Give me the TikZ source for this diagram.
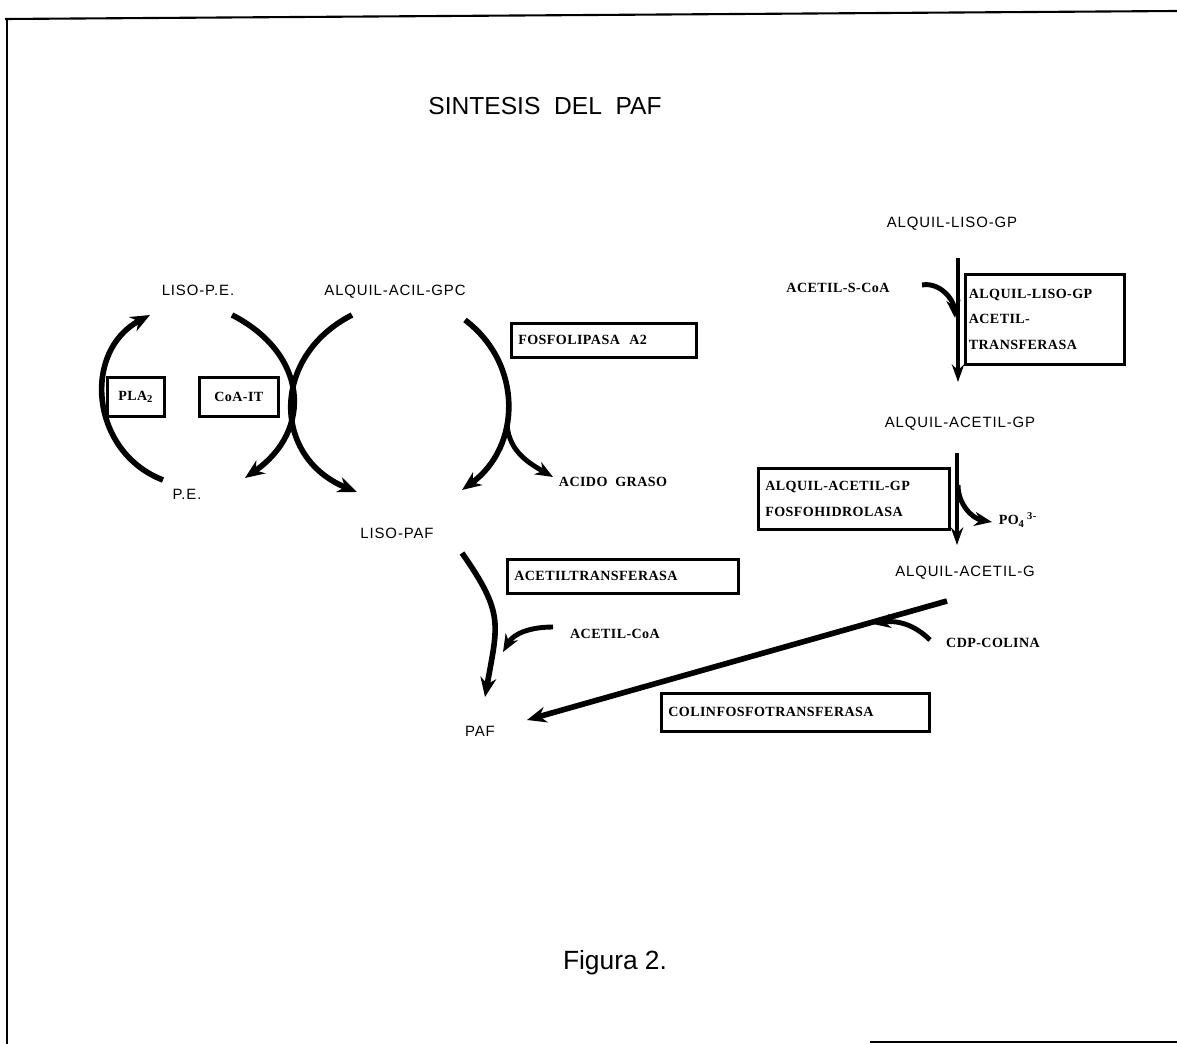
\documentclass[tikz,border=0pt]{standalone}
\usepackage{fontspec}
\setmainfont{Liberation Serif}
\setsansfont{Liberation Sans}
\newfontfamily\metabfont[LetterSpace=6]{Liberation Sans}
\newfontfamily\enzfont[LetterSpace=3]{Liberation Serif}
\usetikzlibrary{arrows.meta}

\begin{document}
\begin{tikzpicture}[
  x=0.02cm, y=0.02cm,
  metab/.style={font=\metabfont\fontsize{8.5pt}{10pt}\selectfont, inner sep=1pt},
  reag/.style={font=\enzfont\bfseries\fontsize{8pt}{10pt}\selectfont, inner sep=1pt},
  enzyme/.style={draw, line width=1.5pt, anchor=north west, align=left,
                 inner xsep=4pt, inner ysep=0pt,
                 font=\enzfont\bfseries\fontsize{8pt}{14.5pt}\selectfont},
  route/.style={line width=3.2pt, -{Stealth[length=11pt, width=9pt]}},
  vroute/.style={line width=2.2pt, -{Stealth[length=10pt, width=7pt]}},
  branch/.style={line width=2.8pt, -{Stealth[length=10pt, width=8pt]}},
]
  \useasboundingbox (0,0) rectangle (1177,-1044);

  % Frame
  \draw[line width=1.2pt] (5,-19) -- (1177,-11);
  \draw[line width=1.4pt] (7,-18) -- (7,-1044);
  \draw[line width=1pt] (870,-1042) -- (1177,-1042);

  % Titles
  \node[font=\sffamily\fontsize{14pt}{16pt}\selectfont] (title) at (545,-106)
    {SINTESIS\ \ DEL\ \ PAF};
  \node[font=\sffamily\fontsize{15pt}{17pt}\selectfont] (fig) at (615,-963)
    {Figura 2.};

  % Nodes
  \node[metab] (lisope) at (198,-290) {LISO-P.E.};
  \node[metab] (aagpc) at (395,-292) {ALQUIL-ACIL-GPC};
  \node[metab] (pe) at (187,-494) {P.E.};
  \node[metab] (lisopaf) at (397,-533) {LISO-PAF};
  \node[metab] (paf) at (480,-731) {PAF};
  \node[reag] (acido) at (613,-482) {ACIDO\ \ GRASO};
  \node[reag] (acoa) at (615,-634) {ACETIL-CoA};

  \node[metab] (alg) at (952,-224) {ALQUIL-LISO-GP};
  \node[reag] (ascoa) at (838,-288) {ACETIL-S-CoA};
  \node[metab] (aagp) at (960,-424) {ALQUIL-ACETIL-GP};
  \node[reag] (po4) at (1018,-520) {PO\textsubscript{4}\,\textsuperscript{3-}};
  \node[metab] (aag) at (965,-573) {ALQUIL-ACETIL-G};
  \node[reag] (cdp) at (993,-643) {CDP-COLINA};

  % Enzymes
  \node[enzyme, align=center, text width=0.86cm, minimum height=0.78cm] (pla) at (106,-376) {PLA\textsubscript{2}};
  \node[enzyme, align=center, text width=1.30cm, minimum height=0.78cm] (coait) at (198,-376) {CoA-IT};
  \node[enzyme, text width=3.42cm, minimum height=0.68cm] (fpa) at (510,-322) {FOSFOLIPASA\ \ A2};
  \node[enzyme, text width=4.34cm, minimum height=0.68cm] (actr) at (506,-558) {ACETILTRANSFERASA};
  \node[enzyme, text width=5.08cm, minimum height=0.76cm] (cft) at (660,-692) {COLINFOSFOTRANSFERASA};
  \node[enzyme, text width=3.04cm, minimum height=1.8cm, inner xsep=2pt] (algat) at (964,-273)
    {ALQUIL-LISO-GP\\ACETIL-\\TRANSFERASA};
  \node[enzyme, text width=3.54cm, minimum height=1.22cm] (aagfh) at (757,-467)
    {ALQUIL-ACETIL-GP\\FOSFOHIDROLASA};

  % Coordinates
  \coordinate (c1) at (163,-480);
  \coordinate (c2) at (150,-315);
  \coordinate (c3) at (232,-315);
  \coordinate (c4) at (245,-478);
  \coordinate (c5) at (352,-315);
  \coordinate (c6) at (357,-492);
  \coordinate (c7) at (465,-320);
  \coordinate (c8) at (462,-490);
  \coordinate (c9) at (507,-425);
  \coordinate (c10) at (553,-477);
  \coordinate (c11) at (462,-553);
  \coordinate (c12) at (485,-697);
  \coordinate (c13) at (553,-627);
  \coordinate (c14) at (503,-652);
  \coordinate (c15) at (947,-601);
  \coordinate (c16) at (527,-720);
  \coordinate (c17) at (930,-640);
  \coordinate (c18) at (873,-624);
  \coordinate (c19) at (958,-258);
  \coordinate (c20) at (958,-382);
  \coordinate (c21) at (922,-285);
  \coordinate (c22) at (955,-318);
  \coordinate (c23) at (957,-453);
  \coordinate (c24) at (957,-545);
  \coordinate (c25) at (958,-485);
  \coordinate (c26) at (992,-522);

  % Edges
  \draw[route] (c1) to[out=159, in=208, looseness=1.2] (c2);
  \draw[route] (c3) to[out=-27, in=35, looseness=1.32] (c4);
  \draw[route] (c5) to[out=207, in=158, looseness=1.32] (c6);
  \draw[route] (c7) to[out=-37, in=36, looseness=1.1] (c8);
  \draw[branch] (c9) to[out=-85, in=150] (c10);
  \draw[route] (c11) to[out=-55, in=80, looseness=1.3] (c12);
  \draw[branch] (c13) to[out=180, in=60] (c14);
  \draw[route] (c15) -- (c16);
  \draw[branch] (c17) to[out=135, in=10] (c18);
  \draw[vroute] (c19) -- (c20);
  \draw[branch] (c21) to[out=10, in=95] (c22);
  \draw[vroute] (c23) -- (c24);
  \draw[branch] (c25) to[out=-90, in=170] (c26);
\end{tikzpicture}
\end{document}
